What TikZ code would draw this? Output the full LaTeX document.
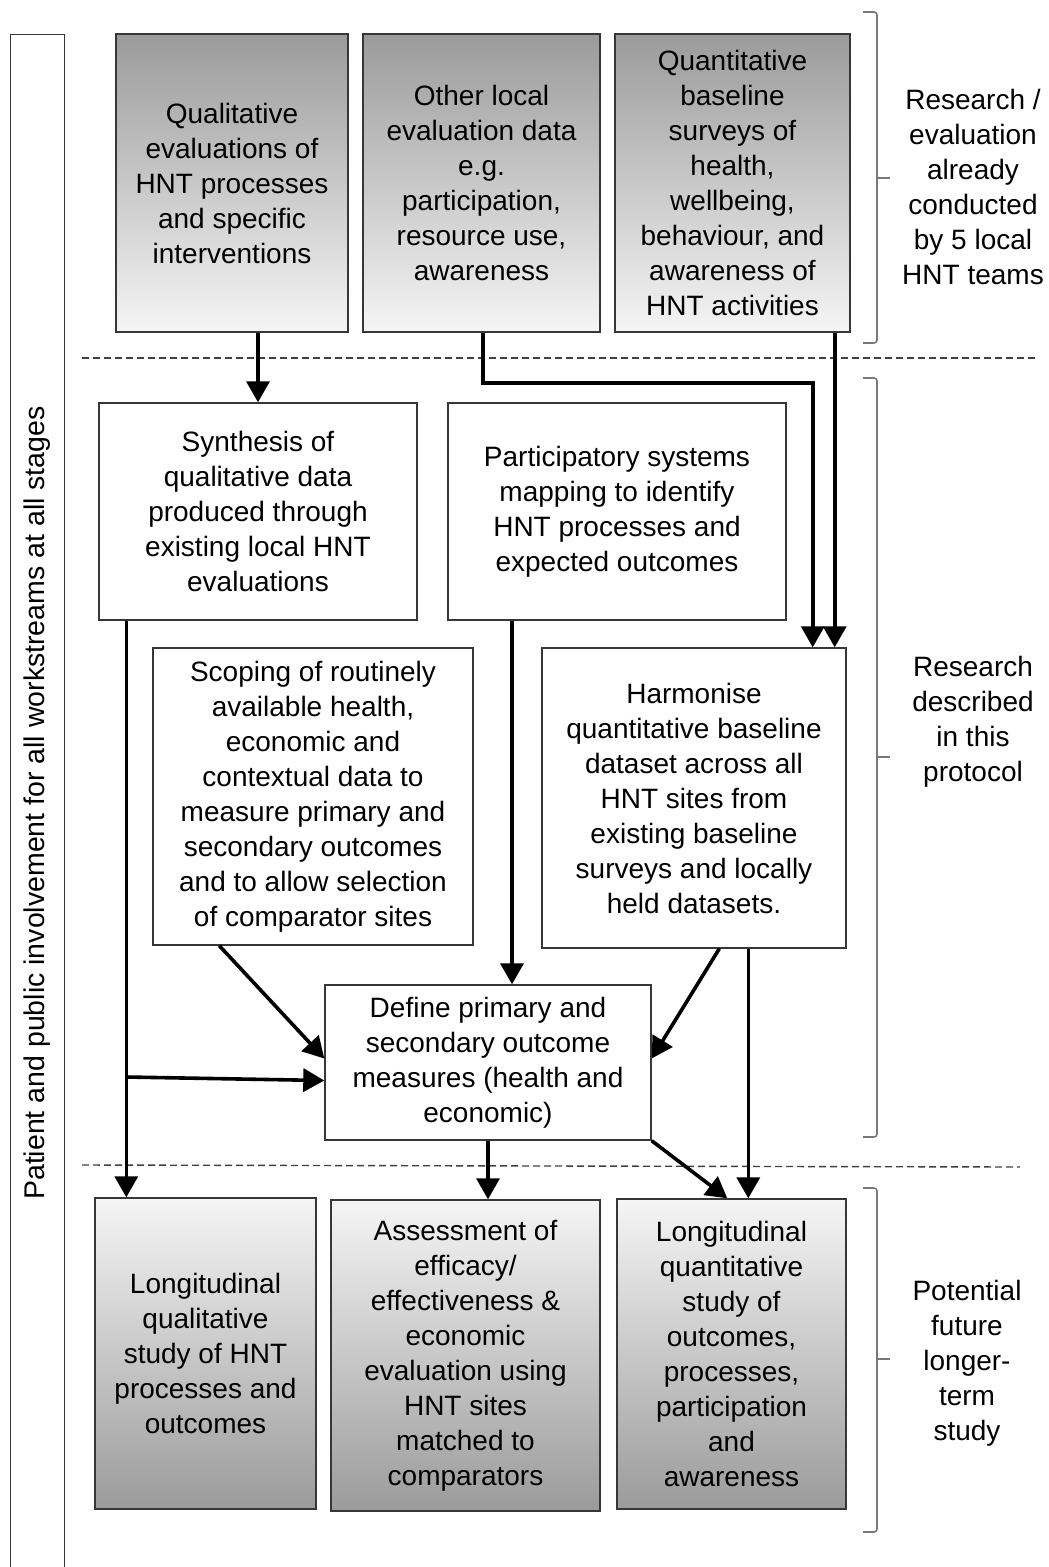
\documentclass[tikz,border=0pt]{standalone}
\usepackage{fontspec}
\setmainfont{Liberation Sans}
\usetikzlibrary{arrows.meta,calc}
\definecolor{edge}{RGB}{55,55,55}
\definecolor{brc}{RGB}{120,120,120}
\definecolor{darkfill}{RGB}{155,155,155}
\definecolor{lightfill}{RGB}{245,245,245}
\tikzset{
  box/.style={draw=edge, line width=1.4pt, align=center, inner sep=0pt,
    font=\fontsize{28}{35}\selectfont, text=black},
  topbox/.style={box, top color=darkfill, bottom color=lightfill},
  botbox/.style={box, top color=lightfill, bottom color=darkfill},
  plainbox/.style={box, fill=white},
  arr/.style={line width=3.6pt, -{Triangle[length=21pt,width=23pt]}},
  sep/.style={draw=black!75, line width=1.4pt, dash pattern=on 7pt off 4pt},
  brace/.style={draw=brc, line width=1.6pt, rounded corners=3pt},
  lbl/.style={align=center, font=\fontsize{28}{35}\selectfont, text=black}
}
\begin{document}
\begin{tikzpicture}[x=1pt,y=-1pt]
\useasboundingbox (0,0) rectangle (1049,1567);

% left tall box
\node[draw=edge, line width=1.4pt, minimum width=54pt, minimum height=1560pt, anchor=north west, inner sep=0pt] (ppi) at (10,34) {};
\node[lbl, rotate=90, font=\fontsize{28.5}{35}\selectfont] (ppitext) at (37,803) {Patient and public involvement for all workstreams at all stages};

% top row
\node[topbox, minimum width=232pt, minimum height=298pt] (q1) at (232,183)
  {Qualitative\\evaluations of\\HNT processes\\and specific\\interventions};
\node[topbox, minimum width=237pt, minimum height=298pt] (q2) at (481.5,183)
  {Other local\\evaluation data\\e.g.\\participation,\\resource use,\\awareness};
\node[topbox, minimum width=235pt, minimum height=298pt] (q3) at (732.5,183)
  {Quantitative\\baseline\\surveys of\\health,\\wellbeing,\\behaviour, and\\awareness of\\HNT activities};

% middle
\node[plainbox, minimum width=318pt, minimum height=217pt] (synth) at (258,511.5)
  {Synthesis of\\qualitative data\\produced through\\existing local HNT\\evaluations};
\node[plainbox, minimum width=338pt, minimum height=217pt] (part) at (617,511.5)
  {Participatory systems\\mapping to identify\\HNT processes and\\expected outcomes};
\node[plainbox, minimum width=320pt, minimum height=297pt] (scope) at (313,796.5)
  {Scoping of routinely\\available health,\\economic and\\contextual data to\\measure primary and\\secondary outcomes\\and to allow selection\\of comparator sites};
\node[plainbox, minimum width=304pt, minimum height=300pt] (harm) at (694,798)
  {Harmonise\\quantitative baseline\\dataset across all\\HNT sites from\\existing baseline\\surveys and locally\\held datasets.};
\node[plainbox, minimum width=326pt, minimum height=155pt] (define) at (488,1062.5)
  {Define primary and\\secondary outcome\\measures (health and\\economic)};

% bottom row
\node[botbox, minimum width=221pt, minimum height=311pt] (lqual) at (205.5,1353.5)
  {Longitudinal\\qualitative\\study of HNT\\processes and\\outcomes};
\node[botbox, minimum width=269pt, minimum height=311pt] (assess) at (465.5,1355.5)
  {Assessment of\\efficacy/\\effectiveness \&\\economic\\evaluation using\\HNT sites\\matched to\\comparators};
\node[botbox, minimum width=229pt, minimum height=310pt] (lquant) at (731.5,1354)
  {Longitudinal\\quantitative\\study of\\outcomes,\\processes,\\participation\\and\\awareness};

% separators
\coordinate (d1a) at (82,358);
\coordinate (d1b) at (1038,358);
\coordinate (d2a) at (82,1165);
\coordinate (d2b) at (1020,1167);
\draw[sep] (d1a) -- (d1b);
\draw[sep] (d2a) -- (d2b);

% braces
\coordinate (b1t) at (863,12);
\coordinate (b1m) at (877,178);
\coordinate (b1b) at (863,343);
\draw[brace] (b1t) -| (b1m) |- (b1b);
\draw[brace] (b1m) -- ++(13,0);
\coordinate (b2t) at (863,378);
\coordinate (b2m) at (877,757);
\coordinate (b2b) at (863,1137);
\draw[brace] (b2t) -| (b2m) |- (b2b);
\draw[brace] (b2m) -- ++(13,0);
\coordinate (b3t) at (863,1188);
\coordinate (b3m) at (877,1359);
\coordinate (b3b) at (863,1532);
\draw[brace] (b3t) -| (b3m) |- (b3b);
\draw[brace] (b3m) -- ++(13,0);

% right labels
\node[lbl] (lab1) at (973,187) {Research /\\evaluation\\already\\conducted\\by 5 local\\HNT teams};
\node[lbl] (lab2) at (973,722) {Research\\described\\in this\\protocol};
\node[lbl] (lab3) at (967,1363) {Potential\\future\\longer-\\term\\study};

% connectors
\draw[arr] (synth.north |- q1.south) -- (synth.north);

\coordinate (h2) at ([xshift=-34pt]harm.north east);
\coordinate (h3) at ([xshift=-12pt]harm.north east);
\draw[arr] ([xshift=1.5pt]q2.south) |- (h2 |- 0,383) -- (h2);
\draw[arr] (h3 |- q3.south) -- (h3);

\coordinate (s4) at ([xshift=28pt]synth.south west);
\coordinate (d4) at ([yshift=-18pt]define.west);
\draw[arr] (s4) -- (s4 |- lqual.north);
\draw[arr] (s4 |- 0,1077) -- (d4);

\coordinate (p5) at ([xshift=24pt]define.north);
\draw[arr] (p5 |- part.south) -- (p5);

\coordinate (s6) at ([xshift=67pt]scope.south west);
\draw[arr] (s6) -- ([yshift=4pt]define.west);

\coordinate (h7) at ([xshift=178pt]harm.south west);
\draw[arr] (h7) -- ([yshift=4pt]define.east);

\coordinate (h8) at ([xshift=207pt]harm.south west);
\draw[arr] (h8) -- (h8 |- lquant.north);

\draw[arr] (define.south) -- (define.south |- assess.north);

\coordinate (q10) at ([xshift=111pt]lquant.north west);
\draw[arr] (define.south east) -- (q10);
\end{tikzpicture}
\end{document}
